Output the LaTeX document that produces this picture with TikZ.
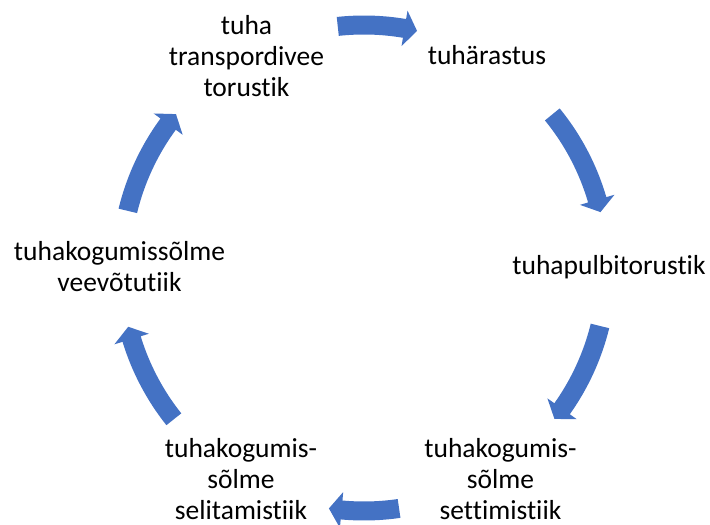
\documentclass[tikz,border=0pt]{standalone}
\usepackage{fontspec}
\setmainfont{Carlito}[Ligatures={NoCommon}]
\usetikzlibrary{calc}
\definecolor{cycblue}{HTML}{4472C4}
\begin{document}
\begin{tikzpicture}[x=1pt,y=1pt,
  lbl/.style={align=center,inner sep=0pt,anchor=base,text=black,
    font=\fontsize{27.5}{31}\selectfont},
  arrowfill/.style={fill=cycblue}]
\useasboundingbox (0,0) rectangle (710,525);
\coordinate (C) at (364,257);
% labels (anchor = baseline of the last line)
\node[lbl] (n1) at (246.5,428) {tuha\\transpordivee\\torustik};
\node[lbl] (n2) at (487,460) {tuhärastus};
\node[lbl] (n3) at (609,250) {tuhapulbitorustik};
\node[lbl,text depth=0pt] (n4) at (500.5,5) {tuhakogumis-\\sõlme\\settimistiik};
\node[lbl,text depth=0pt] (n5) at (241,5) {tuhakogumis-\\sõlme\\selitamistiik};
\node[lbl] (n6) at (119.5,233) {tuhakogumissõlme\\veevõtutiik};
% block arrows of the cycle (tail angle / tip angle around C)
\foreach \ta/\tb in {96.2/77.4, 39.2/13.3, -13.8/-38.4, -81.7/-98.3, 218.5/194, 166.4/140.7}{
  \pgfmathsetmacro{\hb}{\tb+3}
  \fill[arrowfill] ($(C)+(\ta:252.5pt)$)
    arc[start angle=\ta, end angle=\hb, radius=252.5pt]
    -- ($(C)+(\hb:261pt)$)
    -- ($(C)+(\tb:243pt)$)
    -- ($(C)+(\hb:225pt)$)
    -- ($(C)+(\hb:233.5pt)$)
    arc[start angle=\hb, end angle=\ta, radius=233.5pt]
    -- cycle;
}
\end{tikzpicture}
\end{document}
